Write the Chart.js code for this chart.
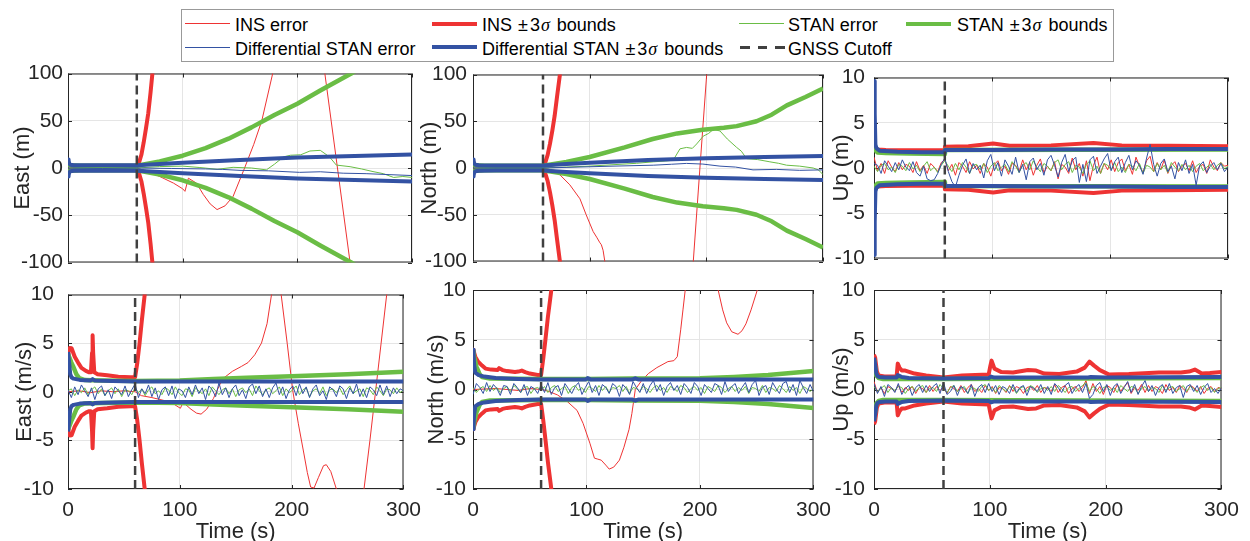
<!DOCTYPE html>
<html>
<head>
<meta charset="utf-8">
<script src="https://cdn.jsdelivr.net/npm/chart.js@4.4.1/dist/chart.umd.min.js"></script>
<style>
  body { margin: 0; background: #fff; width: 1250px; height: 541px; overflow: hidden; position: relative; font-family: 'Liberation Sans', Arial, sans-serif; color: #262626 }
  canvas { position: absolute }
  #legend { position: absolute; left: 181px; top: 9px; width: 931px; height: 51px; border: 1px solid #999; background: #fff }
  .lg-line { position: absolute; width: 45px }
  .lg-txt { position: absolute; font-size: 18px; line-height: 22px; white-space: nowrap; color: #000 }
  .pm { margin: 0 2px 0 1px }
  .sig { font-family: 'Liberation Serif', serif; font-style: italic; margin: 0 2px 0 1px }
</style>
</head>
<body>
<div id="legend"></div>
<div class="lg-line" style="left:185px;top:23px;height:1px;background:#ee3333"></div>
<span class="lg-txt" style="left:235px;top:14px">INS error</span>
<div class="lg-line" style="left:432px;top:21.5px;height:4px;background:#ee3333"></div>
<span class="lg-txt" style="left:482px;top:14px">INS <span class="pm">±</span>3<span class="sig">σ</span> bounds</span>
<div class="lg-line" style="left:739px;top:23px;height:1px;background:#6abd45"></div>
<span class="lg-txt" style="left:788px;top:14px">STAN error</span>
<div class="lg-line" style="left:906px;top:21.5px;height:4px;background:#6abd45"></div>
<span class="lg-txt" style="left:957px;top:14px">STAN <span class="pm">±</span>3<span class="sig">σ</span> bounds</span>
<div class="lg-line" style="left:185px;top:47px;height:1px;background:#3352a3"></div>
<span class="lg-txt" style="left:235px;top:37.5px">Differential STAN error</span>
<div class="lg-line" style="left:432px;top:45px;height:4px;background:#3352a3"></div>
<span class="lg-txt" style="left:482px;top:37.5px">Differential STAN <span class="pm">±</span>3<span class="sig">σ</span> bounds</span>
<div class="lg-line" style="left:740px;top:46px;height:2.5px;background:repeating-linear-gradient(to right,#404040 0 10px,transparent 10px 17.5px)"></div>
<span class="lg-txt" style="left:788px;top:37.5px">GNSS Cutoff</span>

<canvas id="c1" width="432" height="220" style="left:0px;top:58px"></canvas>
<canvas id="c2" width="424" height="220" style="left:418px;top:58px"></canvas>
<canvas id="c3" width="422" height="220" style="left:828px;top:58px"></canvas>
<canvas id="c4" width="432" height="271" style="left:0px;top:270px"></canvas>
<canvas id="c5" width="424" height="271" style="left:418px;top:270px"></canvas>
<canvas id="c6" width="422" height="271" style="left:828px;top:270px"></canvas>

<script>
const C_RED = '#ee3333', C_GREEN = '#6abd45', C_BLUE = '#3352a3', C_CUT = '#404040'
const gnssCutoff = 60
const xTickVals = [0, 100, 200, 300]
const posTicks = [-100, -50, 0, 50, 100]
const velTicks = [-10, -5, 0, 5, 10]

// sample times of the noisy error traces
const tStep = [0,3,6,9,12,15,18,21,24,27,30,33,36,39,42,45,48,51,54,57,60,63,66,69,72,75,78,81,84,87,
  90,93,96,99,102,105,108,111,114,117,120,123,126,129,132,135,138,141,144,147,150,153,156,159,162,165,168,171,174,177,
  180,183,186,189,192,195,198,201,204,207,210,213,216,219,222,225,228,231,234,237,240,243,246,249,252,255,258,261,264,267,
  270,273,276,279,282,285,288,291,294,297,300]

// East position (m)
const posE_insErr_t = [0,20,40,60,70,80,92,100,102,105,112,118,124,130,137,144,154,162,169,178.5,190,200,212,224,235,246,255]
const posE_insErr = [0,0.5,0,0,-4,-9,-16,-22,-24.7,-10.8,-16,-28,-38,-44,-40,-30,0,25,50,100,150,168,155,100,0,-100,-170]
const posE_insBnd_t = [0,1,3,10,30,60,62,64,66,68,70,72,74,78]
const posE_insBnd = [6,4,2.5,2.2,2,2,6,14,27,42,58,80,105,170]
const posE_stanErr_t = [0,30,60,80,100,115,130,144,160,173,180,188,194,203,211,220,228,234,246,256,266,275,284,292,300]
const posE_stanErr = [0,0.5,0,1.5,2,0.5,-1.4,0.7,0,-2,4,11.8,13.5,14,18,18.7,11.8,3.1,1.4,-1,-3.8,-6,-10,-9,-10]
const posE_stanBnd_t = [0,2,10,60,80,100,120,140,160,180,200,220,247,270]
const posE_stanBnd = [4,3,2.5,2.5,7,13,21,31,43,56,68,82,100,118]
const posE_diffErr_t = [0,30,60,90,120,135,150,175,202,220,240,260,280,300]
const posE_diffErr = [0,-0.5,0,-0.5,-1,-1.5,-2.5,-3,-4.6,-4,-5.5,-6,-7,-8]
const posE_diffBnd_t = [0,0.5,1,2,5,20,60,80,100,150,200,250,300]
const posE_diffBnd = [9,8,5,3.5,3,2.8,2.8,4.2,5.5,8.5,11,12.8,14.2]

// North position (m)
const posN_insErr_t = [0,30,60,67,74.5,83,91.7,97,103,106,108.8,110,111.5,113,130,150,171,182,188.8,194.5,200.3,206]
const posN_insErr = [0,0,0,-2,-7.3,-18,-33,-50,-68,-74,-80,-82,-88,-100,-170,-230,-250,-200,-100,0,100,200]
const posN_insBnd_t = [0,1,3,10,30,60,62,64,66,68,70,72,74.5,78]
const posN_insBnd = [7,4,2.5,2.2,2,2,6,14,26,40,56,76,100,150]
const posN_stanErr_t = [0,30,60,80,100,120,140,154.5,165,171.6,177.4,183,188,191.7,197.3,202,206,211.7,218,226,230,234.5,244,254.5,262,268.8,280,291.6,296,300]
const posN_stanErr = [0,0.3,0,1,2,3.5,5,6.6,7.5,8.3,20.5,22,21,25.7,34,37,41.3,39.6,31,22,18,10,9,6.6,5,3,2,0,-2,-7]
const posN_stanBnd_t = [0,2,10,60,80,100,130,154,175,197,215,226,243,256,269,285,300]
const posN_stanBnd = [4,3,2.5,2.5,6.5,11.8,22,31,37,41,43,44.8,50,57,67,76,85]
const posN_diffErr_t = [0,60,90,120,154.5,170,183,197,211.7,225,240,260,280,300]
const posN_diffErr = [0,0,1,2,3,4,4.9,4.2,2,1,-2,-1.5,-2.5,-2]
const posN_diffBnd_t = [0,0.5,1,2,5,20,60,80,100,150,200,250,300]
const posN_diffBnd = [9,8,5,3.5,3,2.8,2.8,4.2,5.5,8.5,10.3,11.8,12.8]

// Up position (m)
const upPos_insErr = [1.2,-0.3,0.5,-0.6,0.8,0.1,-0.4,0.6,-0.2,0.4,
  0.2,-0.5,0.7,-0.3,0.3,-0.6,0.5,0.1,-0.4,0.6,
  0.9,-0.3,0.4,-0.8,0.6,0.2,-0.5,0.7,-0.1,0.3,
  -0.6,0.5,0.1,-0.9,0.4,0.8,-0.3,0.2,-0.7,0.5,
  0.3,-0.4,0.9,-0.2,0.6,-0.8,0.3,1.0,-0.5,0.2,
  -0.3,0.7,-1.2,0.4,0.1,-0.6,1.1,-0.2,0.5,-0.9,
  0.8,-1.4,0.3,1.2,-0.6,0.5,-0.2,0.9,-0.4,0.6,
  1.0,-0.3,0.4,-0.7,1.2,0.2,-0.5,0.8,1.3,-0.4,
  0.6,-0.2,0.9,-0.6,0.3,0.7,-0.4,0.2,0.5,-0.3,
  0.8,-0.5,0.2,0.4,-0.6,0.9,0.1,-0.3,0.6,0.2,
  0.3]
const upPos_stanErr = [0.2,-0.4,0.3,0.5,-0.2,0.1,-0.5,0.4,0.2,-0.3,
  0.6,-0.1,0.3,-0.4,0.2,0.7,-0.3,0.1,-0.5,0.3,
  0.8,0.2,-0.4,0.5,-0.2,0.6,0.1,-0.6,0.3,0.4,
  -0.2,0.5,-0.5,0.2,0.6,-0.3,0.1,0.4,-0.4,0.7,
  0.2,-0.5,0.3,0.6,-0.2,0.8,0.1,-0.4,0.5,0.2,
  -0.3,0.6,0.9,-0.2,0.4,0.7,-0.5,0.3,0.1,-0.6,
  0.4,0.8,-0.3,0.2,-0.6,0.5,0.3,-0.2,0.6,-0.4,
  0.1,-0.5,0.4,0.2,-0.3,0.5,-0.6,0.3,0.1,-0.4,
  0.5,-0.2,0.3,-0.5,0.6,0.1,-0.3,0.4,-0.2,0.3,
  -0.4,0.2,0.5,-0.3,0.1,0.4,-0.2,0.3,0.6,-0.1,
  0.2]
const upPos_diffErr = [0.5,0.3,-0.6,0.8,0.2,-0.4,0.6,-0.2,0.9,0.1,
  -0.3,0.7,-0.5,-0.9,0.2,-1.2,-1.4,-1.3,-0.6,0.4,
  1.1,-0.4,-1.5,-2.1,-0.8,0.3,1.0,-0.6,0.5,-0.2,
  0.3,-1.1,0.8,1.5,-0.3,0.6,-0.9,0.9,0.2,-0.7,
  1.2,-0.5,0.4,-1.3,0.7,1.1,-0.2,0.5,-0.8,0.9,
  1.4,0.3,-1.0,0.6,1.5,-0.4,0.8,1.2,-1.6,0.4,
  -1.5,0.9,1.3,-0.6,0.2,1.0,1.6,-0.3,0.7,1.2,
  -0.5,0.6,1.4,-0.2,0.8,0.3,-0.7,1.1,2.6,0.4,
  -0.9,0.5,1.0,-0.4,0.2,-1.2,0.6,-0.3,0.9,-0.6,
  0.4,-1.9,0.3,0.7,-0.5,0.2,0.6,-0.2,0.5,-0.4,
  0.1]
const upPos_insBnd_t = [0,1,3,10,30,59.9,60.1,80,101,115,150,186,210,250,300]
const upPos_insBnd = [2.4,2.2,2.05,2.0,1.95,1.95,2.35,2.4,2.7,2.45,2.5,2.75,2.5,2.45,2.4]
const upPos_stanBnd_t = [0,1,3,10,30,59.9,60.1,300]
const upPos_stanBnd = [2.3,2.0,1.7,1.65,1.6,1.55,2.0,2.05]
const upPos_diffBnd_t = [0,0.4,0.8,1.2,2,5,20,40,59.9,60.1,100,150,200,250,300]
const upPos_diffBnd = [9.6,9.6,6,2.6,2.2,1.9,1.8,1.75,1.75,2.0,2.0,2.05,2.05,2.1,2.1]

// East velocity (m/s)
const velE_insErr_t = [0,10,20,30,40,50,60,65.6,75,86,95,100.5,102.5,105,110,115,119,124,130,134,
  138,147,155,161,167,173,178,182,186,190.6,196,201,206,211,214,217,220,224,228.5,231,
  235,240,246,252,258,264.7,270,275,280,285,290]
const velE_insErr = [0,0.1,-0.1,0.1,0,0.1,0,-0.4,-0.6,-0.9,-1.3,-1.7,-1.2,-1.3,-1.8,-2.2,-2.3,-1.8,-0.7,0.3,
  1.3,2.1,2.6,3.0,3.8,5.0,7.0,10,11.3,10,5,0.1,-3.3,-6.4,-8.3,-9.8,-9.9,-8.8,-7.6,-7.5,
  -8.2,-10,-12,-13,-12.5,-10,-5,0,5,10,14]
const velE_insBnd_t = [0,0.5,1.5,3.2,6,9,12,16,19,20.5,21.5,22,22.5,23.5,26.5,35,45,56,60,62,64,66,68.6,72]
const velE_insBnd = [3.8,4.3,4.5,4.47,3.6,3.0,2.46,2.15,2.0,2.0,4.0,5.8,4.0,2.0,1.8,1.7,1.55,1.5,1.5,3.0,5.0,7.3,10,14]
const velE_stanErr = [0.1,0.3,-0.4,0.2,-0.1,0.4,-0.3,0.2,0.5,-0.2,
  0.3,-0.4,0.1,0.4,-0.2,0.3,-0.5,0.2,0.1,-0.3,
  0.4,-0.1,0.3,-0.4,0.2,0.5,-0.2,0.1,-0.3,0.4,
  0.2,-0.3,0.5,-0.1,-0.4,0.3,0.2,-0.5,0.4,0.1,
  -0.2,0.3,-0.4,0.5,0.1,-0.3,0.2,0.4,-0.2,0.3,
  -0.5,0.2,0.4,-0.1,0.3,-0.4,0.6,0.1,-0.3,0.2,
  0.4,-0.2,0.1,0.5,-0.4,0.3,-0.1,0.2,0.6,-0.3,
  0.2,0.4,-0.5,0.1,0.3,-0.2,0.5,-0.4,0.2,0.3,
  -0.1,0.4,-0.3,0.2,0.6,-0.2,0.1,0.3,-0.5,0.4,
  0.2,-0.3,0.5,0.1,-0.4,0.3,0.2,-0.2,0.4,-0.1,
  0.2]
const velE_stanBnd_t = [0,1,3,4.6,7.5,10,15,30,60,100,130,160,200,250,300]
const velE_stanBnd = [3.9,3.6,3.0,2.6,1.8,1.4,1.2,1.15,1.1,1.15,1.3,1.45,1.6,1.8,2.05]
const velE_diffErr = [0.2,-0.6,0.5,-0.3,0.7,0.1,-0.5,0.4,-0.8,0.3,
  0.6,-0.4,0.2,-0.7,0.5,0.1,-0.3,0.6,-0.5,0.2,
  0.8,-0.6,0.3,-0.2,0.7,-0.5,0.4,-0.8,0.2,0.5,
  -0.4,0.6,-0.7,0.3,0.1,-0.6,0.5,-0.3,0.7,-0.2,
  0.4,-0.8,0.6,0.2,-0.5,0.9,-0.3,0.4,-0.6,0.3,
  0.7,-0.4,0.2,-0.7,0.5,0.8,-0.2,0.6,-0.5,0.3,
  -0.6,0.4,0.9,-0.3,0.5,-0.7,0.2,0.6,-0.4,0.8,
  -0.2,0.5,-0.6,0.3,0.7,-0.4,0.1,-0.8,0.5,0.2,
  -0.5,0.6,0.3,-0.7,0.4,-0.2,0.8,-0.5,0.3,-0.6,
  0.5,0.2,-0.4,0.7,-0.3,0.6,-0.5,0.4,-0.2,0.3,
  0.1]
const velE_diffBnd_t = [0,0.4,1,2,3.2,5,10.5,20,22,24,40,60,300]
const velE_diffBnd = [4.1,4.1,3.0,1.8,1.46,1.35,1.22,1.15,1.3,1.15,1.1,1.05,1.05]

// North velocity (m/s)
const velN_insErr_t = [0,20,40,50,60,61,67,74.5,83,91.7,97,103,107,110,113,117,120,124,129,133,
  137.5,140,143,148,154.5,162,171.7,177,180,183,185,187,192,200,208,216,220,223.5,228,233.5,
  237,240.5,245,250.5,255]
const velN_insErr = [0,0.1,-0.1,0.1,0,0,-0.2,-0.55,-1.2,-2.1,-3.4,-5.4,-6.9,-7,-7.1,-7.6,-8,-7.8,-7.1,-5.8,
  -4,-2.4,0,0.8,1.6,2.2,2.8,2.9,3.3,6,8,10,13,14.5,13,10,8,6.7,5.8,5.55,
  5.9,6.6,8,10,12]
const velN_insBnd_t = [0,0.5,2,4.5,8,11,16,21.7,23,26,30,37,40,43,46,50,57,60,62,64,66,68.8,72]
const velN_insBnd = [4.0,3.9,3.3,2.8,2.4,2.1,2.0,1.96,2.15,1.95,1.85,1.75,1.8,1.9,1.75,1.6,1.46,1.45,3.2,5.2,7.3,9.8,13]
const velN_stanErr = [0.2,-0.3,0.1,0.3,-0.2,0.4,-0.1,0.2,-0.3,0.1,
  0.3,-0.2,0.4,0.1,-0.3,0.2,0.3,-0.4,0.1,0.2,
  -0.1,0.3,-0.3,0.2,0.4,-0.2,0.1,0.3,-0.4,0.2,
  0.4,-0.1,0.2,-0.3,0.3,0.1,-0.2,0.4,-0.1,0.3,
  -0.3,0.2,0.1,0.4,-0.2,0.3,-0.4,0.2,0.1,-0.2,
  0.3,0.1,-0.3,0.2,0.4,-0.1,0.2,-0.3,0.3,0.1,
  -0.2,0.4,0.2,-0.3,0.1,0.3,-0.1,0.2,-0.4,0.3,
  0.1,-0.2,0.4,0.2,-0.3,0.1,0.3,-0.2,0.2,-0.1,
  0.3,-0.4,0.2,0.1,-0.2,0.4,-0.3,0.2,0.1,-0.2,
  0.4,0.1,-0.3,0.3,-0.1,0.2,-0.4,0.3,0.1,-0.2,
  0.1]
const velN_stanBnd_t = [0,1,3,6,8,15,60,100,140,200,230,260,280,300]
const velN_stanBnd = [4.0,3.3,2.3,1.5,1.25,1.1,1.05,1.05,1.1,1.12,1.25,1.45,1.65,1.85]
const velN_diffErr = [-0.5,0.6,0.2,-0.4,0.7,-0.2,0.5,0.1,-0.6,0.4,
  0.3,-0.5,0.6,0.2,-0.3,0.5,-0.6,0.3,0.1,-0.4,
  0.5,-0.3,0.7,-0.5,0.2,0.4,-0.6,0.6,0.1,-0.4,
  0.3,0.7,-0.5,0.2,0.8,-0.3,0.4,-0.6,0.5,0.2,
  -0.4,0.6,0.3,-0.7,0.5,0.1,-0.5,0.8,0.2,-0.3,
  0.6,-0.4,0.4,0.9,-0.2,0.5,-0.6,0.3,0.7,-0.1,
  0.4,-0.5,0.6,0.2,-0.4,0.7,0.3,-0.6,0.5,0.1,
  -0.3,0.6,0.4,-0.5,0.8,-0.2,0.3,0.6,-0.4,0.2,
  0.7,-0.3,0.5,0.9,-0.6,0.2,0.4,-0.5,0.7,0.1,
  -0.4,0.6,0.8,-0.3,0.5,-0.6,0.9,0.2,-0.4,0.5,
  -0.2]
const velN_diffBnd_t = [0,0.5,1,2,5,10,20,40,60,99,101,104,140,143,146,300]
const velN_diffBnd = [4.0,3.6,2.5,1.7,1.45,1.3,1.15,1.05,1.0,1.0,1.15,1.0,1.0,1.12,1.0,1.0]

// Up velocity (m/s)
const velU_insErr = [0.8,-0.3,0.2,-0.4,0.3,0.1,-0.2,0.4,-0.3,0.2,
  -0.1,0.3,-0.4,0.2,0.1,-0.3,0.4,-0.2,0.3,-0.1,
  0.2,-0.4,0.3,0.1,-0.2,0.4,-0.3,0.2,0.5,-0.2,
  0.1,-0.3,0.4,-0.1,0.3,-0.4,0.2,0.1,-0.3,0.4,
  -0.2,0.3,0.1,-0.4,0.2,0.3,-0.1,0.4,-0.3,0.2,
  0.1,-0.2,0.5,-0.3,0.2,0.4,-0.4,0.1,0.3,-0.2,
  0.2,0.9,-0.4,0.6,-0.2,0.3,-0.5,0.4,0.2,-0.3,
  0.5,-0.2,0.3,0.7,-0.4,0.2,-0.1,0.5,-0.3,0.4,
  -0.2,0.3,0.1,-0.4,0.5,-0.1,0.2,-0.3,0.4,0.1,
  -0.3,0.4,0.2,-0.2,0.3,-0.4,0.1,0.3,-0.2,0.2,
  0.1]
const velU_insBnd_t = [0,1,2.5,4,9,15,19.5,20.5,22,24,27,35,45,60,76,99,100.5,101.5,104,110,
  120,133,140,147,160,175,182,186,190,195,203,220,246,265,272,277,280,283,290,300]
const velU_insBnd = [3.5,3.2,1.8,1.4,1.3,1.3,1.3,2.6,2.2,1.9,1.9,1.6,1.4,1.2,1.4,1.5,2.4,2.9,2.1,1.75,
  1.7,1.95,1.9,1.6,1.55,1.8,2.2,2.8,2.4,1.95,1.5,1.55,1.7,1.7,1.8,2.0,1.8,1.6,1.65,1.75]
const velU_stanErr = [0.3,-0.2,0.1,0.4,-0.3,0.2,-0.1,0.3,0.2,-0.4,
  0.1,0.3,-0.2,0.2,0.4,-0.3,0.1,0.2,-0.2,0.5,
  0.1,-0.3,0.2,0.4,-0.2,0.1,0.3,-0.4,0.2,0.1,
  -0.2,0.3,0.5,-0.1,0.2,-0.3,0.4,0.1,-0.2,0.3,
  0.2,-0.4,0.1,0.3,-0.2,0.4,0.2,-0.3,0.1,0.2,
  -0.1,0.3,-0.2,0.4,0.1,-0.3,0.2,0.3,-0.2,0.1,
  0.4,0.7,-0.2,0.3,0.1,-0.4,0.2,0.3,-0.1,0.2,
  -0.3,0.4,0.1,-0.2,0.3,0.2,-0.4,0.1,0.3,-0.2,
  0.2,0.1,-0.3,0.4,-0.1,0.2,0.3,-0.2,0.1,0.4,
  -0.2,0.3,0.1,-0.3,0.2,0.4,-0.1,0.2,-0.3,0.1,
  0.2]
const velU_stanBnd_t = [0,1,2,4,8,20,60,300]
const velU_stanBnd = [3.0,2.2,1.4,1.15,1.05,1.05,1.05,1.15]
const velU_diffErr = [0.6,-0.4,0.3,-0.7,0.5,0.2,-0.3,0.6,-0.5,0.1,
  0.4,-0.6,0.2,0.5,-0.3,0.4,-0.2,0.3,0.6,-0.4,
  0.7,-0.5,-0.2,0.4,-0.6,0.3,0.1,-0.4,0.5,-0.7,
  0.2,0.5,-0.3,0.6,-0.2,0.4,-0.5,0.3,0.1,-0.4,
  0.5,-0.3,0.2,0.4,-0.6,0.3,0.1,-0.2,0.5,-0.4,
  0.3,-0.5,0.6,0.2,-0.3,0.4,0.7,-0.4,0.2,0.5,
  -0.3,0.6,-0.9,-0.5,0.4,0.7,-0.2,0.5,-0.6,0.3,
  0.6,-0.4,0.2,0.8,-0.3,0.5,-0.5,0.3,0.9,-0.2,
  0.4,-0.6,0.2,0.5,-0.3,0.6,-0.4,0.2,0.4,-0.8,
  0.3,0.5,-0.2,0.4,-0.5,0.2,0.6,-0.3,0.1,-0.4,
  0.2]
const velU_diffBnd_t = [0,1,2,3,5,10,19.5,20.5,24,30,60,99,101,104,150,185,187,200,300]
const velU_diffBnd = [3.2,2.5,1.6,1.35,1.25,1.2,1.2,1.45,1.25,1.15,1.1,1.15,1.3,1.2,1.2,1.2,1.25,1.2,1.25]

const panels = [
  { id: 'c1', row: 0, yw: 68, padR: 20, tickPad: 5, titlePad: 12, yTicks: posTicks, yTitle: 'East (m)',
    ins: [posE_insErr_t, posE_insErr], insB: [posE_insBnd_t, posE_insBnd], stan: [posE_stanErr_t, posE_stanErr],
    stanB: [posE_stanBnd_t, posE_stanBnd], diff: [posE_diffErr_t, posE_diffErr], diffB: [posE_diffBnd_t, posE_diffBnd] },
  { id: 'c2', row: 0, yw: 55, padR: 19, tickPad: 6, titlePad: 1, yTicks: posTicks, yTitle: 'North (m)',
    ins: [posN_insErr_t, posN_insErr], insB: [posN_insBnd_t, posN_insBnd], stan: [posN_stanErr_t, posN_stanErr],
    stanB: [posN_stanBnd_t, posN_stanBnd], diff: [posN_diffErr_t, posN_diffErr], diffB: [posN_diffBnd_t, posN_diffBnd] },
  { id: 'c3', row: 0, yw: 46, padR: 22, tickPad: 9, titlePad: 3, yTicks: velTicks, yTitle: 'Up (m)',
    ins: [tStep, upPos_insErr], insB: [upPos_insBnd_t, upPos_insBnd], stan: [tStep, upPos_stanErr],
    stanB: [upPos_stanBnd_t, upPos_stanBnd], diff: [tStep, upPos_diffErr], diffB: [upPos_diffBnd_t, upPos_diffBnd] },
  { id: 'c4', row: 1, yw: 68, padR: 20, tickPad: 14, titlePad: 14, yTicks: velTicks, yTitle: 'East (m/s)',
    ins: [velE_insErr_t, velE_insErr], insB: [velE_insBnd_t, velE_insBnd], stan: [tStep, velE_stanErr],
    stanB: [velE_stanBnd_t, velE_stanBnd], diff: [tStep, velE_diffErr], diffB: [velE_diffBnd_t, velE_diffBnd] },
  { id: 'c5', row: 1, yw: 55, padR: 19, tickPad: 7, titlePad: 8, yTicks: velTicks, yTitle: 'North (m/s)',
    ins: [velN_insErr_t, velN_insErr], insB: [velN_insBnd_t, velN_insBnd], stan: [tStep, velN_stanErr],
    stanB: [velN_stanBnd_t, velN_stanBnd], diff: [tStep, velN_diffErr], diffB: [velN_diffBnd_t, velN_diffBnd] },
  { id: 'c6', row: 1, yw: 46, padR: 22, tickPad: 9, titlePad: 3, yTicks: velTicks, yTitle: 'Up (m/s)',
    ins: [tStep, velU_insErr], insB: [velU_insBnd_t, velU_insBnd], stan: [tStep, velU_stanErr],
    stanB: [velU_stanBnd_t, velU_stanBnd], diff: [tStep, velU_diffErr], diffB: [velU_diffBnd_t, velU_diffBnd] }
]

const FONT = "'Liberation Sans', Arial, sans-serif"
const TXT = '#262626'

function pts(t, v, sign) {
  return t.map((x, i) => ({ x: x, y: (sign || 1) * v[i] }))
}

function lineSet(data, color, width, extra) {
  return Object.assign({
    data: data, borderColor: color, backgroundColor: color, borderWidth: width,
    pointRadius: 0, fill: false, tension: 0, borderJoinStyle: 'round'
  }, extra || {})
}

// box round the axes with inward tick marks, like the original figure
const framePlugin = {
  id: 'frame',
  beforeDatasetsDraw(chart) {
    const { ctx, chartArea: a, scales } = chart
    ctx.save()
    ctx.strokeStyle = TXT
    ctx.lineWidth = 1
    ctx.strokeRect(a.left + 0.5, a.top + 0.5, a.right - a.left - 1, a.bottom - a.top - 1)
    ctx.beginPath()
    scales.x.ticks.forEach(t => {
      const px = Math.round(scales.x.getPixelForValue(t.value)) + 0.5
      ctx.moveTo(px, a.top); ctx.lineTo(px, a.top + 4)
      ctx.moveTo(px, a.bottom); ctx.lineTo(px, a.bottom - 4)
    })
    scales.y.ticks.forEach(t => {
      const py = Math.round(scales.y.getPixelForValue(t.value)) + 0.5
      ctx.moveTo(a.left, py); ctx.lineTo(a.left + 4, py)
      ctx.moveTo(a.right, py); ctx.lineTo(a.right - 4, py)
    })
    ctx.stroke()
    ctx.restore()
  }
}

function buildPanel(p) {
  const ctx = document.getElementById(p.id)
  if (!ctx) return
  const bottom = p.row === 1
  const yMin = p.yTicks[0], yMax = p.yTicks[p.yTicks.length - 1]

  // MATLAB plot order; Chart.js paints index 0 last, so reverse
  const sets = [
    lineSet(pts(p.ins[0], p.ins[1]), C_RED, 1),
    lineSet(pts(p.insB[0], p.insB[1]), C_RED, 4),
    lineSet(pts(p.insB[0], p.insB[1], -1), C_RED, 4),
    lineSet(pts(p.stan[0], p.stan[1]), C_GREEN, 1),
    lineSet(pts(p.stanB[0], p.stanB[1]), C_GREEN, 4.5),
    lineSet(pts(p.stanB[0], p.stanB[1], -1), C_GREEN, 4.5),
    lineSet(pts(p.diff[0], p.diff[1]), C_BLUE, 1),
    lineSet(pts(p.diffB[0], p.diffB[1]), C_BLUE, 4),
    lineSet(pts(p.diffB[0], p.diffB[1], -1), C_BLUE, 4),
    lineSet([{ x: gnssCutoff, y: yMin }, { x: gnssCutoff, y: yMax }], C_CUT, 2.5, { borderDash: [9, 5], borderCapStyle: 'butt' })
  ].reverse()

  new Chart(ctx, {
    type: 'line',
    data: { datasets: sets },
    options: {
      responsive: false, animation: false, devicePixelRatio: 1,
      layout: { padding: { left: 0, right: p.padR, top: bottom ? 20 : 14, bottom: 0 } },
      plugins: { legend: { display: false }, tooltip: { enabled: false } },
      scales: {
        x: {
          type: 'linear', min: 0, max: 300,
          afterBuildTicks: s => { s.ticks = xTickVals.map(v => ({ value: v })) },
          afterFit: s => { s.height = bottom ? 52 : 14 },
          ticks: { display: bottom, autoSkip: false, maxRotation: 0, padding: 11, color: TXT, font: { family: FONT, size: 21, lineHeight: 1 }, callback: v => String(v) },
          grid: { color: '#e5e5e5', drawTicks: false },
          border: { display: false },
          title: { display: bottom, text: 'Time (s)', color: TXT, font: { family: FONT, size: 22, lineHeight: 0.8 }, padding: { top: 0, bottom: 0 } }
        },
        y: {
          type: 'linear', min: yMin, max: yMax,
          afterBuildTicks: s => { s.ticks = p.yTicks.map(v => ({ value: v })) },
          afterFit: s => { s.width = p.yw },
          ticks: { padding: p.tickPad, color: TXT, font: { family: FONT, size: 21, lineHeight: 1 }, callback: v => String(v) },
          grid: { color: '#e5e5e5', drawTicks: false },
          border: { display: false },
          title: { display: true, text: p.yTitle, color: TXT, font: { family: FONT, size: 22, lineHeight: 1 }, padding: { top: p.titlePad, bottom: 0 } }
        }
      }
    },
    plugins: [framePlugin]
  })
}

function initCharts() {
  try {
    panels.forEach(buildPanel)
  } catch (e) {
    console.error('Chart init error:', e)
  }
}

document.addEventListener('DOMContentLoaded', initCharts)
</script>
</body>
</html>
